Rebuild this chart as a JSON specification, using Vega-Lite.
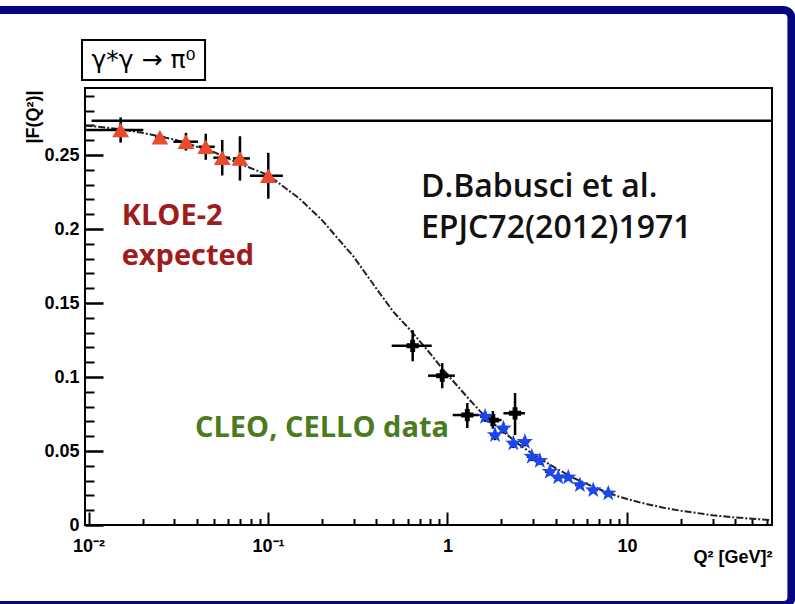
{
  "$schema": "https://vega.github.io/schema/vega-lite/v6.json",
  "autosize": {"type": "pad"},
  "padding": {"left": -149, "top": 6, "right": 0, "bottom": -5},
  "width": 687,
  "height": 437,
  "background": "white",
  "config": {
    "view": {"stroke": "black", "strokeWidth": 2, "fill": "white"},
    "axis": {"grid": false, "domain": false, "labelFont": "Liberation Sans", "labelFontSize": 18, "labelFontWeight": "bold", "labelColor": "black", "tickColor": "black", "titleColor": "black", "labelOverlap": false, "labelFlush": false}
  },
  "datasets": {
    "curve": [
      {"q2": 0.0096, "f": 0.2700}, {"q2": 0.015, "f": 0.2675}, {"q2": 0.02, "f": 0.2650},
      {"q2": 0.03, "f": 0.2605}, {"q2": 0.05, "f": 0.2520}, {"q2": 0.07, "f": 0.2440},
      {"q2": 0.1, "f": 0.2365}, {"q2": 0.15, "f": 0.2205}, {"q2": 0.2, "f": 0.2060},
      {"q2": 0.3, "f": 0.1813}, {"q2": 0.42, "f": 0.1565}, {"q2": 0.5, "f": 0.1440},
      {"q2": 0.62, "f": 0.1318}, {"q2": 0.8, "f": 0.1160}, {"q2": 0.95, "f": 0.1047},
      {"q2": 1.33, "f": 0.0845}, {"q2": 1.6, "f": 0.0740}, {"q2": 2, "f": 0.0640},
      {"q2": 2.5, "f": 0.0545}, {"q2": 3, "f": 0.0478}, {"q2": 4, "f": 0.0385},
      {"q2": 5, "f": 0.0320}, {"q2": 6.5, "f": 0.0258}, {"q2": 8.8, "f": 0.0195},
      {"q2": 12, "f": 0.0150}, {"q2": 16, "f": 0.0117}, {"q2": 20, "f": 0.0096},
      {"q2": 30, "f": 0.0066}, {"q2": 40, "f": 0.0051}, {"q2": 50, "f": 0.0042},
      {"q2": 63, "f": 0.0034}
    ],
    "pts": [
      {"set": "KLOE-2", "q2": 0.0151, "f": 0.2669, "q2lo": 0.0097, "q2hi": 0.0202, "flo": 0.2584, "fhi": 0.2754},
      {"set": "KLOE-2", "q2": 0.025, "f": 0.2620, "q2lo": 0.0235, "q2hi": 0.0265, "flo": 0.2600, "fhi": 0.2640},
      {"set": "KLOE-2", "q2": 0.0349, "f": 0.2590, "q2lo": 0.0297, "q2hi": 0.0407, "flo": 0.2530, "fhi": 0.2650},
      {"set": "KLOE-2", "q2": 0.045, "f": 0.2556, "q2lo": 0.041, "q2hi": 0.0505, "flo": 0.2468, "fhi": 0.2644},
      {"set": "KLOE-2", "q2": 0.0556, "f": 0.2482, "q2lo": 0.0496, "q2hi": 0.0614, "flo": 0.2362, "fhi": 0.2602},
      {"set": "KLOE-2", "q2": 0.0698, "f": 0.2477, "q2lo": 0.0638, "q2hi": 0.0793, "flo": 0.2327, "fhi": 0.2627},
      {"set": "KLOE-2", "q2": 0.1004, "f": 0.2360, "q2lo": 0.0794, "q2hi": 0.121, "flo": 0.2205, "fhi": 0.2515},
      {"set": "CELLO", "q2": 0.64, "f": 0.1211, "q2lo": 0.489, "q2hi": 0.817, "flo": 0.1106, "fhi": 0.1316},
      {"set": "CELLO", "q2": 0.935, "f": 0.1009, "q2lo": 0.78, "q2hi": 1.1, "flo": 0.0924, "fhi": 0.1094},
      {"set": "CELLO", "q2": 1.29, "f": 0.0743, "q2lo": 1.07, "q2hi": 1.5, "flo": 0.0655, "fhi": 0.0824},
      {"set": "CELLO", "q2": 1.79, "f": 0.0709, "q2lo": 1.6, "q2hi": 2.0, "flo": 0.0650, "fhi": 0.0770},
      {"set": "CELLO", "q2": 2.38, "f": 0.0755, "q2lo": 2.05, "q2hi": 2.7, "flo": 0.0608, "fhi": 0.0892},
      {"set": "CLEO", "q2": 1.62, "f": 0.0732, "q2lo": 1.52, "q2hi": 1.72, "flo": 0.0697, "fhi": 0.0767},
      {"set": "CLEO", "q2": 1.84, "f": 0.0608, "q2lo": 1.73, "q2hi": 1.95, "flo": 0.0573, "fhi": 0.0643},
      {"set": "CLEO", "q2": 2.05, "f": 0.0653, "q2lo": 1.93, "q2hi": 2.17, "flo": 0.0618, "fhi": 0.0688},
      {"set": "CLEO", "q2": 2.33, "f": 0.0552, "q2lo": 2.19, "q2hi": 2.47, "flo": 0.0520, "fhi": 0.0584},
      {"set": "CLEO", "q2": 2.70, "f": 0.0563, "q2lo": 2.54, "q2hi": 2.86, "flo": 0.0531, "fhi": 0.0595},
      {"set": "CLEO", "q2": 2.95, "f": 0.0462, "q2lo": 2.77, "q2hi": 3.13, "flo": 0.0432, "fhi": 0.0492},
      {"set": "CLEO", "q2": 3.27, "f": 0.0434, "q2lo": 3.07, "q2hi": 3.47, "flo": 0.0407, "fhi": 0.0461},
      {"set": "CLEO", "q2": 3.72, "f": 0.0360, "q2lo": 3.5, "q2hi": 3.94, "flo": 0.0335, "fhi": 0.0385},
      {"set": "CLEO", "q2": 4.14, "f": 0.0322, "q2lo": 3.89, "q2hi": 4.39, "flo": 0.0300, "fhi": 0.0344},
      {"set": "CLEO", "q2": 4.71, "f": 0.0322, "q2lo": 4.43, "q2hi": 4.99, "flo": 0.0300, "fhi": 0.0344},
      {"set": "CLEO", "q2": 5.47, "f": 0.0270, "q2lo": 5.14, "q2hi": 5.8, "flo": 0.0250, "fhi": 0.0290},
      {"set": "CLEO", "q2": 6.49, "f": 0.0236, "q2lo": 6.1, "q2hi": 6.88, "flo": 0.0218, "fhi": 0.0254},
      {"set": "CLEO", "q2": 7.87, "f": 0.0214, "q2lo": 7.4, "q2hi": 8.34, "flo": 0.0196, "fhi": 0.0232}
    ]
  },
  "resolve": {"axis": {"x": "independent", "y": "independent"}},
  "layer": [
    {
      "data": {"values": [{}]},
      "mark": {"type": "rect", "fill": "white", "fillOpacity": 0, "stroke": "#06067f", "strokeWidth": 8, "cornerRadius": 8, "clip": false},
      "encoding": {
        "x": {"datum": 0.0005, "type": "quantitative",
          "scale": {"type": "log", "domain": [0.00956, 64.3], "nice": false},
          "axis": {"orient": "bottom", "values": [0.01, 0.1, 1, 10], "ticks": false, "labelPadding": 12,
            "labelExpr": "datum.value < 0.05 ? '10⁻²' : datum.value < 0.5 ? '10⁻¹' : datum.value < 5 ? '1' : '10'",
            "title": "Q² [GeV]²", "titleX": 687, "titleY": 32, "titleAlign": "right", "titleBaseline": "middle",
            "titleFont": "Liberation Sans", "titleFontSize": 18, "titleFontWeight": "bold"}},
        "x2": {"datum": 82.5},
        "y": {"datum": -0.05405, "type": "quantitative",
          "scale": {"domain": [0, 0.2953], "nice": false, "zero": false},
          "axis": {"orient": "left", "values": [0, 0.05, 0.1, 0.15, 0.2, 0.25], "ticks": false, "labelPadding": 6,
            "format": ".2~f", "labelBaseline": "middle",
            "title": "|F(Q²)|", "titleAngle": 270, "titleX": -51.5, "titleY": 28.5, "titleAlign": "center", "titleBaseline": "middle",
            "titleFont": "Liberation Sans", "titleFontSize": 18, "titleFontWeight": "bold"}},
        "y2": {"datum": 0.34797}
      }
    },
    {
      "data": {"name": "curve"},
      "mark": {"type": "line", "color": "#222222", "strokeWidth": 2, "strokeDash": [7, 2, 2, 2]},
      "encoding": {
        "x": {"field": "q2", "type": "quantitative",
          "scale": {"type": "log", "domain": [0.00956, 64.3], "nice": false},
          "axis": {"orient": "bottom", "values": [0.01, 0.1, 1, 10], "labels": false, "tickSize": -13, "tickWidth": 2, "title": null}},
        "y": {"field": "f", "type": "quantitative",
          "scale": {"domain": [0, 0.2953], "nice": false, "zero": false},
          "axis": {"orient": "left", "values": [0, 0.05, 0.1, 0.15, 0.2, 0.25], "labels": false, "tickSize": -18, "tickWidth": 2.5, "title": null}}
      }
    },
    {
      "data": {"values": [{}]},
      "mark": {"type": "rule", "color": "black", "strokeWidth": 2.5},
      "encoding": {
        "x": {"datum": 0.0104, "type": "quantitative",
          "scale": {"type": "log", "domain": [0.00956, 64.3], "nice": false},
          "axis": {"orient": "bottom", "labels": false, "tickSize": -6.5, "tickWidth": 2, "title": null,
            "values": [0.02, 0.03, 0.04, 0.05, 0.06, 0.07, 0.08, 0.09, 0.2, 0.3, 0.4, 0.5, 0.6, 0.7, 0.8, 0.9, 2, 3, 4, 5, 6, 7, 8, 9, 20, 30, 40, 50, 60]}},
        "x2": {"datum": 64.3},
        "y": {"datum": 0.2732, "type": "quantitative",
          "scale": {"domain": [0, 0.2953], "nice": false, "zero": false},
          "axis": {"orient": "left", "labels": false, "tickSize": -9, "tickWidth": 2, "title": null,
            "values": [0.01, 0.02, 0.03, 0.04, 0.06, 0.07, 0.08, 0.09, 0.11, 0.12, 0.13, 0.14, 0.16, 0.17, 0.18, 0.19, 0.21, 0.22, 0.23, 0.24, 0.26, 0.27, 0.28, 0.29]}}
      }
    },
    {
      "data": {"name": "pts"},
      "mark": {"type": "rule", "color": "black", "strokeWidth": 2.5},
      "encoding": {
        "x": {"field": "q2", "type": "quantitative", "scale": {"type": "log", "domain": [0.00956, 64.3], "nice": false}, "axis": null},
        "y": {"field": "flo", "type": "quantitative", "scale": {"domain": [0, 0.2953], "nice": false, "zero": false}, "axis": null},
        "y2": {"field": "fhi"}
      }
    },
    {
      "data": {"name": "pts"},
      "mark": {"type": "rule", "color": "black", "strokeWidth": 2.5},
      "encoding": {
        "x": {"field": "q2lo", "type": "quantitative", "scale": {"type": "log", "domain": [0.00956, 64.3], "nice": false}, "axis": null},
        "x2": {"field": "q2hi"},
        "y": {"field": "f", "type": "quantitative", "scale": {"domain": [0, 0.2953], "nice": false, "zero": false}, "axis": null}
      }
    },
    {
      "data": {"name": "pts"},
      "transform": [{"filter": "datum.set === 'CELLO'"}],
      "mark": {"type": "point", "shape": "cross", "filled": true, "color": "black", "size": 150, "opacity": 1, "strokeWidth": 0},
      "encoding": {
        "x": {"field": "q2", "type": "quantitative", "scale": {"type": "log", "domain": [0.00956, 64.3], "nice": false}, "axis": null},
        "y": {"field": "f", "type": "quantitative", "scale": {"domain": [0, 0.2953], "nice": false, "zero": false}, "axis": null}
      }
    },
    {
      "data": {"name": "pts"},
      "transform": [{"filter": "datum.set === 'CLEO'"}],
      "mark": {"type": "point", "shape": "M0,-1L0.235,-0.324L0.951,-0.309L0.380,0.124L0.588,0.809L0,0.4L-0.588,0.809L-0.380,0.124L-0.951,-0.309L-0.235,-0.324Z", "filled": true, "color": "#1c46f2", "size": 300, "opacity": 1, "strokeWidth": 0},
      "encoding": {
        "x": {"field": "q2", "type": "quantitative", "scale": {"type": "log", "domain": [0.00956, 64.3], "nice": false}, "axis": null},
        "y": {"field": "f", "type": "quantitative", "scale": {"domain": [0, 0.2953], "nice": false, "zero": false}, "axis": null}
      }
    },
    {
      "data": {"name": "pts"},
      "transform": [{"filter": "datum.set === 'KLOE-2'"}],
      "mark": {"type": "point", "shape": "triangle-up", "filled": true, "color": "#ec4a2c", "size": 280, "opacity": 1, "strokeWidth": 0},
      "encoding": {
        "x": {"field": "q2", "type": "quantitative", "scale": {"type": "log", "domain": [0.00956, 64.3], "nice": false}, "axis": null},
        "y": {"field": "f", "type": "quantitative", "scale": {"domain": [0, 0.2953], "nice": false, "zero": false}, "axis": null}
      }
    },
    {
      "data": {"values": [{}]},
      "mark": {"type": "rect", "fill": "white", "stroke": "black", "strokeWidth": 2, "clip": false},
      "encoding": {
        "x": {"datum": 0.0092, "type": "quantitative", "scale": {"type": "log", "domain": [0.00956, 64.3], "nice": false}, "axis": null},
        "x2": {"datum": 0.0446},
        "y": {"datum": 0.3007, "type": "quantitative", "scale": {"domain": [0, 0.2953], "nice": false, "zero": false}, "axis": null},
        "y2": {"datum": 0.3277}
      }
    },
    {
      "data": {"values": [{"label": "γ*γ → π⁰", "q2": 0.02025, "f": 0.3142}]},
      "mark": {"type": "text", "font": "DejaVu Sans", "fontSize": 25, "align": "center", "baseline": "middle", "color": "black", "clip": false},
      "encoding": {
        "x": {"field": "q2", "type": "quantitative", "scale": {"type": "log", "domain": [0.00956, 64.3], "nice": false}, "axis": null},
        "y": {"field": "f", "type": "quantitative", "scale": {"domain": [0, 0.2953], "nice": false, "zero": false}, "axis": null},
        "text": {"field": "label"}
      }
    },
    {
      "data": {"values": [{"label": "KLOE-2", "q2": 0.01531, "f": 0.2027}, {"label": "expected", "q2": 0.01531, "f": 0.1757}]},
      "mark": {"type": "text", "font": "Open Sans", "fontSize": 29, "fontWeight": "bold", "align": "left", "baseline": "alphabetic", "color": "#a01c1c"},
      "encoding": {
        "x": {"field": "q2", "type": "quantitative", "scale": {"type": "log", "domain": [0.00956, 64.3], "nice": false}, "axis": null},
        "y": {"field": "f", "type": "quantitative", "scale": {"domain": [0, 0.2953], "nice": false, "zero": false}, "axis": null},
        "text": {"field": "label"}
      }
    },
    {
      "data": {"values": [{"label": "D.Babusci et al.", "q2": 0.7117, "f": 0.2216}, {"label": "EPJC72(2012)1971", "q2": 0.7117, "f": 0.1939}]},
      "mark": {"type": "text", "font": "Open Sans", "fontSize": 32, "fontWeight": 600, "align": "left", "baseline": "alphabetic", "color": "#111111"},
      "encoding": {
        "x": {"field": "q2", "type": "quantitative", "scale": {"type": "log", "domain": [0.00956, 64.3], "nice": false}, "axis": null},
        "y": {"field": "f", "type": "quantitative", "scale": {"domain": [0, 0.2953], "nice": false, "zero": false}, "axis": null},
        "text": {"field": "label"}
      }
    },
    {
      "data": {"values": [{"label": "CLEO, CELLO data", "q2": 0.0392, "f": 0.0595}]},
      "mark": {"type": "text", "font": "Open Sans", "fontSize": 29, "fontWeight": "bold", "align": "left", "baseline": "alphabetic", "color": "#4c7a1e"},
      "encoding": {
        "x": {"field": "q2", "type": "quantitative", "scale": {"type": "log", "domain": [0.00956, 64.3], "nice": false}, "axis": null},
        "y": {"field": "f", "type": "quantitative", "scale": {"domain": [0, 0.2953], "nice": false, "zero": false}, "axis": null},
        "text": {"field": "label"}
      }
    }
  ]
}
